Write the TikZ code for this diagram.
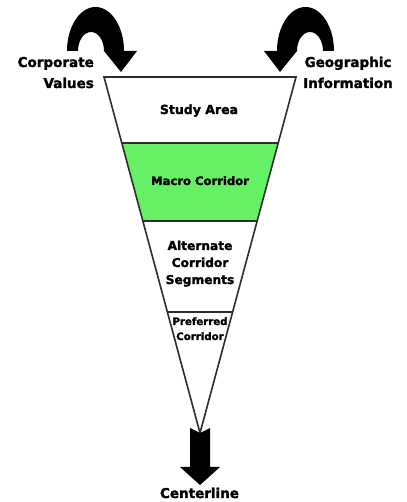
\documentclass[tikz,border=0pt]{standalone}
\usepackage{fontspec}
\setmainfont{DejaVu Sans}[BoldFeatures={FakeBold=1.8}]
\usetikzlibrary{calc}
\definecolor{macrogreen}{RGB}{102,240,102}
\definecolor{edgegray}{RGB}{45,45,45}
\tikzset{
  funnel/.style={draw=edgegray,line width=1.6bp},
  bandlabel/.style={inner sep=0pt,align=center,font=\bfseries\fontsize{#1}{17bp}\selectfont},
  sidelabel/.style={inner sep=0pt,font=\bfseries\fontsize{13.5bp}{21bp}\selectfont},
  blockarrow/.style={fill=black}
}
\begin{document}
\begin{tikzpicture}[x=1bp,y=1bp]
\useasboundingbox (0,0) rectangle (406,502);
% funnel corners
\coordinate (TL) at (104,425);
\coordinate (TR) at (296,425);
\coordinate (A) at (200,69);
\coordinate (L1) at ($(TL)!0.1854!(A)$);
\coordinate (R1) at ($(TR)!0.1854!(A)$);
\coordinate (L2) at ($(TL)!0.4045!(A)$);
\coordinate (R2) at ($(TR)!0.4045!(A)$);
\coordinate (L3) at ($(TL)!0.6601!(A)$);
\coordinate (R3) at ($(TR)!0.6601!(A)$);
% green band
\fill[macrogreen] (L1) -- (R1) -- (R2) -- (L2) -- cycle;
% outline and dividers
\draw[funnel] (TL) -- (TR) -- (A) -- cycle;
\draw[funnel] (L1) -- (R1);
\draw[funnel] (L2) -- (R2);
\draw[funnel] (L3) -- (R3);
% band labels
\node[bandlabel=12.5bp,anchor=base] (study) at (199,388) {Study Area};
\node[bandlabel=11.6bp,anchor=base] (macro) at (200,317) {Macro Corridor};
\node[bandlabel=12.2bp,anchor=base] (alt) at (200,218) {Alternate\\Corridor\\Segments};
\node[inner sep=0pt,align=center,font=\bfseries\fontsize{10.2bp}{15bp}\selectfont,anchor=base] (pref) at (200,162) {Preferred\\Corridor};
% side labels
\node[sidelabel,align=right,anchor=base east] (corp) at (94,414) {Corporate\\Values};
\node[sidelabel,align=center,anchor=base] (geo) at (348,414) {Geographic\\Information};
\node[sidelabel,anchor=base] (center) at (199.5,4) {Centerline};
% curved arrows
\fill[blockarrow] (67,451) arc[start angle=180,end angle=0,x radius=28.5bp,y radius=44bp]
  -- (137,451) -- (121,430) -- (104,451)
  arc[start angle=0,end angle=180,x radius=13bp,y radius=19bp] -- cycle;
\fill[blockarrow] (334,451) arc[start angle=0,end angle=180,x radius=28.5bp,y radius=44bp]
  -- (264,451) -- (280,430) -- (297,451)
  arc[start angle=180,end angle=0,x radius=13bp,y radius=19bp] -- cycle;
% down arrow
\fill[blockarrow] (190,74) -- (A) -- (210,74) -- (210,35) -- (220,35) -- (200,17)
  -- (180,35) -- (190,35) -- cycle;
\end{tikzpicture}
\end{document}
